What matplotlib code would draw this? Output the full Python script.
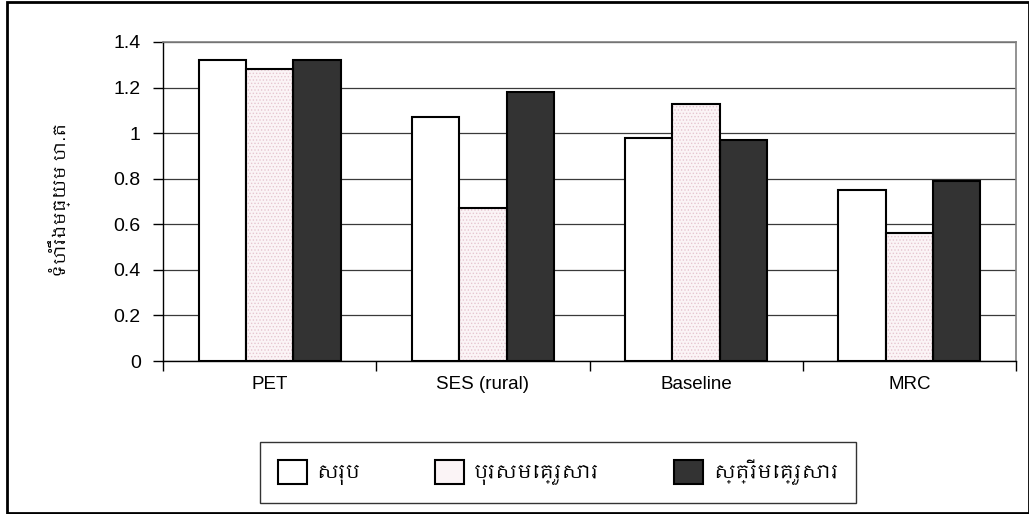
import numpy as np
import matplotlib.pyplot as plt
from matplotlib import font_manager as fm
from matplotlib.patches import Rectangle, Patch

# data
categories = ['PET', 'SES (rural)', 'Baseline', 'MRC']
total = [1.32, 1.07, 0.98, 0.75]
male_head = [1.28, 0.67, 1.13, 0.56]
female_head = [1.32, 1.18, 0.97, 0.79]
series_names = ['សរុប', 'បុរសមេគ្រួសារ', 'ស្ត្រីមេគ្រួសារ']
y_label = 'ទំហំរឹងមធ្យម ហ.ត'
y_ticks = [0, 0.2, 0.4, 0.6, 0.8, 1.0, 1.2, 1.4]

# fonts: use a Khmer-capable font if the system has one
families = ['Liberation Sans']
for f in fm.findSystemFonts():
    if 'khmer' in f.lower():
        try:
            fm.fontManager.addfont(f)
            families.append(fm.FontProperties(fname=f).get_name())
            break
        except Exception:
            pass
families += ['Noto Sans', 'DejaVu Sans']
plt.rcParams['font.family'] = families
plt.rcParams['font.size'] = 10
plt.rcParams['hatch.linewidth'] = 0.6

fig = plt.figure(figsize=(10.29, 5.14), dpi=100)
ax = fig.add_axes([163 / 1029, 1 - 361 / 514, (1016 - 163) / 1029, (361 - 42) / 514])

x = np.arange(len(categories))
w = 0.222

ax.bar(x - w, total, w, color='white', edgecolor='black', linewidth=1.5, zorder=3)
# pink dotted fill, then outline on top
ax.bar(x, male_head, w, color='#fbf4f6', edgecolor='#e6c6d0', hatch='.....', linewidth=0, zorder=3)
ax.bar(x, male_head, w, fill=False, edgecolor='black', linewidth=1.5, zorder=4)
ax.bar(x + w, female_head, w, color='#333333', edgecolor='black', linewidth=1.5, zorder=3)

ax.set_xlim(-0.5, len(categories) - 0.5)
ax.set_ylim(0, 1.4)
ax.set_yticks(y_ticks)
ax.set_yticklabels(['%g' % v for v in y_ticks], fontsize=14)
ax.set_xticks(np.arange(len(categories) + 1) - 0.5, minor=False)
ax.set_xticklabels([])
ax.set_xticks(x, minor=True)
ax.set_xticklabels(categories, minor=True, fontsize=13.5)
ax.tick_params(axis='x', which='minor', length=0, pad=11)
ax.tick_params(axis='x', which='major', length=7, width=1, direction='out', color='black')
ax.tick_params(axis='y', length=7, width=1, direction='out', color='black', pad=9)

ax.yaxis.grid(True, color='#3a3a3a', linewidth=0.9, zorder=0)
ax.set_axisbelow(True)
for s in ['top', 'right']:
    ax.spines[s].set_color('#808080')
    ax.spines[s].set_linewidth(1.2)
for s in ['left', 'bottom']:
    ax.spines[s].set_color('black')
    ax.spines[s].set_linewidth(1.0)

fig.text(60 / 1029, 1 - 200 / 514, y_label, rotation=90, ha='center', va='center', fontsize=12.5)

handles = [
    Patch(facecolor='white', edgecolor='black', linewidth=1.5),
    Patch(facecolor='#fbf4f6', edgecolor='black', linewidth=1.5),
    Patch(facecolor='#333333', edgecolor='black', linewidth=1.5),
]
leg = fig.legend(handles, series_names, loc='center', ncol=3, mode='expand',
                 bbox_to_anchor=(260 / 1029, 1 - 506 / 514, (856 - 260) / 1029, 67 / 514),
                 borderaxespad=0, frameon=True, fancybox=False, edgecolor='black', fontsize=14,
                 handlelength=1.5, handleheight=1.5, handletextpad=0.5,
                 borderpad=0.9)
leg.get_frame().set_linewidth(1.0)

# outer border of the chart
fig.patches.append(Rectangle((7 / 1029, 1 / 514), 1 - 7 / 1029, 1 - 3 / 514,
                             transform=fig.transFigure, fill=False,
                             edgecolor='black', linewidth=2))

fig.savefig('out.png', dpi=100)
